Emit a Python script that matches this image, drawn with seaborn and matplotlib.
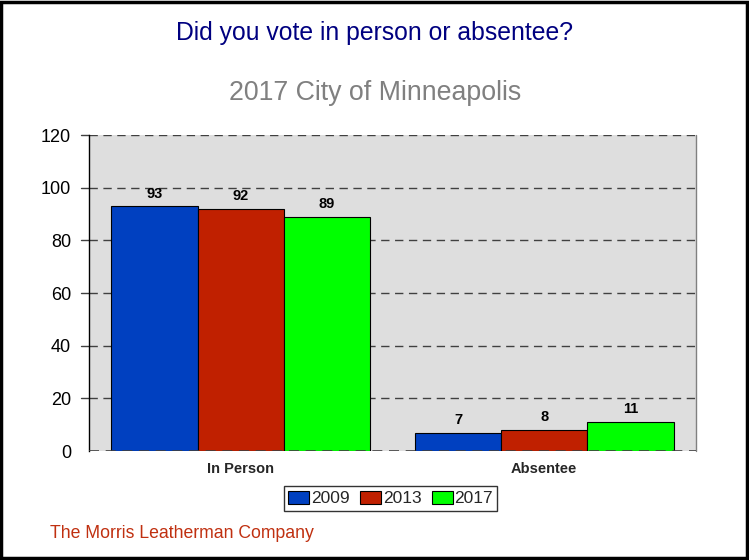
import matplotlib
matplotlib.use("Agg")
import matplotlib.pyplot as plt
from matplotlib.patches import Rectangle
import seaborn as sns
import pandas as pd

categories = ["In Person", "Absentee"]
years = ["2009", "2013", "2017"]
values_2009 = [93, 7]
values_2013 = [92, 8]
values_2017 = [89, 11]
yticks = [0, 20, 40, 60, 80, 100, 120]

palette = ["#0040C0", "#C02000", "#00FF00"]

rows = []
for year, vals in zip(years, [values_2009, values_2013, values_2017]):
    for cat, v in zip(categories, vals):
        rows.append({"Method": cat, "Year": year, "Percent": v})
df = pd.DataFrame(rows)

sns.set_theme(style="white")
plt.rcParams["font.family"] = ["Liberation Sans", "DejaVu Sans"]

fig = plt.figure(figsize=(7.49, 5.60), dpi=100)
ax = fig.add_axes([89 / 749, 1 - 451 / 560, 607 / 749, 316 / 560])
ax.set_facecolor("#DEDEDE")

sns.barplot(data=df, x="Method", y="Percent", hue="Year", order=categories,
            hue_order=years, palette=palette, width=0.852, saturation=1,
            edgecolor="black", linewidth=0.8, ax=ax, zorder=3)

ax.set_ylim(0, 120)
ax.set_xlim(-0.5, 1.5)
ax.set_yticks(yticks)
ax.set_yticklabels([str(t) for t in yticks], fontsize=13, color="black")
ax.tick_params(axis="y", length=0, pad=13)
ax.tick_params(axis="x", length=0, pad=8)
for lbl in ax.get_xticklabels():
    lbl.set_fontweight("bold")
    lbl.set_fontsize(10.5)
ax.set_xlabel("")
ax.set_ylabel("")

# dashed grid, plus short dashed stubs left of the axis
for y in yticks[1:]:
    ax.axhline(y, color="#404040", linestyle=(0, (6, 4)), linewidth=1, zorder=1)
    ax.plot([-0.528, -0.5], [y, y], color="#404040", linewidth=1,
            clip_on=False, zorder=1)

for side in ["top", "right", "bottom"]:
    ax.spines[side].set_visible(False)
ax.spines["left"].set_color("black")
ax.spines["left"].set_linewidth(1)
ax.axhline(0, color="#404040", linestyle=(0, (6, 4)), linewidth=1.2, zorder=4)
ax.plot([1.5, 1.5], [0, 120], color="#808080", linewidth=1, clip_on=False, zorder=1)

for container in ax.containers:
    ax.bar_label(container, fmt="%d", padding=4, fontsize=10.5,
                 fontweight="bold", color="black")

leg = ax.legend(loc="upper center", bbox_to_anchor=(0.497, -0.112), ncol=3,
                frameon=True, fontsize=12.5, handlelength=1.2, handleheight=0.8,
                handletextpad=0.1, columnspacing=0.6, borderpad=0.25,
                borderaxespad=0, fancybox=False)
leg.get_frame().set_edgecolor("black")
leg.get_frame().set_linewidth(1)

fig.text(375 / 749, 1 - 33 / 560, "Did you vote in person or absentee?",
         ha="center", va="center", fontsize=17.8, color="#000080")
fig.text(375 / 749, 1 - 93 / 560, "2017 City of Minneapolis",
         ha="center", va="center", fontsize=19.3, color="#808080")
fig.text(50 / 749, 1 - 533 / 560, "The Morris Leatherman Company",
         ha="left", va="center", fontsize=12.7, color="#C03010")

fig.patches.append(Rectangle((0.002, 0.003), 0.995, 0.994, transform=fig.transFigure,
                             fill=False, edgecolor="black", linewidth=2.5))

fig.savefig("out.png", dpi=100, facecolor="white")
